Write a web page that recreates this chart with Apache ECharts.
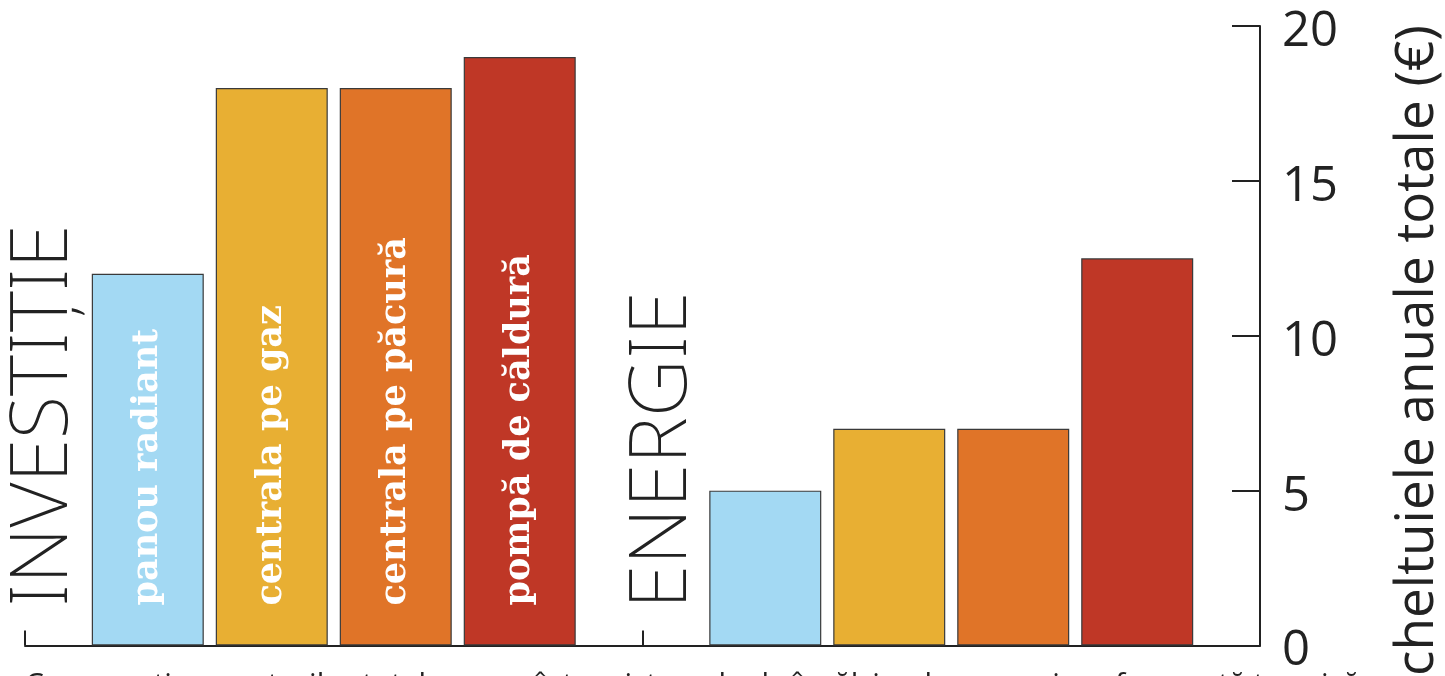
<!DOCTYPE html>
<html>

<head>
    <meta charset="UTF-8">
    <script src="https://cdn.jsdelivr.net/npm/echarts@6/dist/echarts.min.js"></script>
    <style>
        html, body { margin: 0; padding: 0; background: #fff; }
    </style>
</head>

<body>
    <div id="chart" style="width: 1445px;height:676px"></div>
    <script>
    // grupe si sisteme de incalzire
    var groups = ['INVESTIȚIE', 'ENERGIE'];
    var systems = ['panou radiant', 'centrala pe gaz', 'centrala pe păcură', 'pompă de căldură'];
    var investitie = [12, 18, 18, 19];
    var energie = [5, 7, 7, 12.5];
    var yTicks = [0, 5, 10, 15, 20];
    var colors = ['#a3d9f3', '#e8af33', '#e07428', '#bf3726'];

    var series = systems.map(function (name, i) {
        return {
            name: name,
            type: 'bar',
            barWidth: 112,
            barGap: '10.7%',
            itemStyle: { color: colors[i], borderColor: '#3a3a3a', borderWidth: 1.2 },
            label: {
                show: true,
                formatter: name,
                position: 'insideBottom',
                distance: 40,
                rotate: 90,
                align: 'left',
                verticalAlign: 'middle',
                color: '#fff',
                fontFamily: 'DejaVu Serif',
                fontWeight: 'bold',
                fontSize: 35
            },
            // doar grupa investitie are eticheta
            data: [investitie[i], { value: energie[i], label: { show: false } }]
        };
    });

    var option = {
        animation: false,
        grid: { left: 25, right: 185, top: 26, bottom: 29 },
        xAxis: {
            type: 'category',
            data: groups,
            axisLine: { lineStyle: { color: '#222', width: 2 } },
            axisTick: { show: true, interval: 0, inside: true, length: 15, lineStyle: { color: '#222', width: 2 } },
            axisLabel: { show: false }
        },
        yAxis: {
            type: 'value',
            position: 'right',
            min: yTicks[0],
            max: yTicks[yTicks.length - 1],
            interval: 5,
            splitLine: { show: false },
            axisLine: { show: true, lineStyle: { color: '#222', width: 2 } },
            axisTick: { show: true, inside: true, length: 28, lineStyle: { color: '#222', width: 2 } },
            axisLabel: {
                margin: 22,
                formatter: '{v|{value}}',
                rich: { v: { color: '#222', fontSize: 49, fontFamily: 'Open Sans', padding: [12, 0, 0, 0] } }
            }
        },
        graphic: [
            {
                type: 'text', x: 44, y: 607, rotation: Math.PI / 2,
                style: { text: groups[0], font: '200 79px "Noto Sans"', fill: '#222', textAlign: 'left', textVerticalAlign: 'middle' }
            },
            {
                type: 'text', x: 663, y: 609, rotation: Math.PI / 2,
                style: { text: groups[1], font: '200 80px "Noto Sans"', fill: '#222', textAlign: 'left', textVerticalAlign: 'middle' }
            },
            {
                type: 'text', x: 1418, y: 25, rotation: Math.PI / 2,
                style: { text: 'cheltuiele anuale totale (€)', font: '53px "Open Sans"', fill: '#222', textAlign: 'right', textVerticalAlign: 'middle' }
            },
            {
                type: 'text', x: 25, y: 670,
                style: { text: 'Comparație a costurilor totale pe an între sistemele de încălzire, la aceeași performanță termică', font: '30px "Open Sans"', fill: '#222', textAlign: 'left', textVerticalAlign: 'top' }
            }
        ],
        series: series
    };

    var myChart = echarts.init(document.getElementById('chart'));
    myChart.setOption(option);
    </script>
</body>

</html>
